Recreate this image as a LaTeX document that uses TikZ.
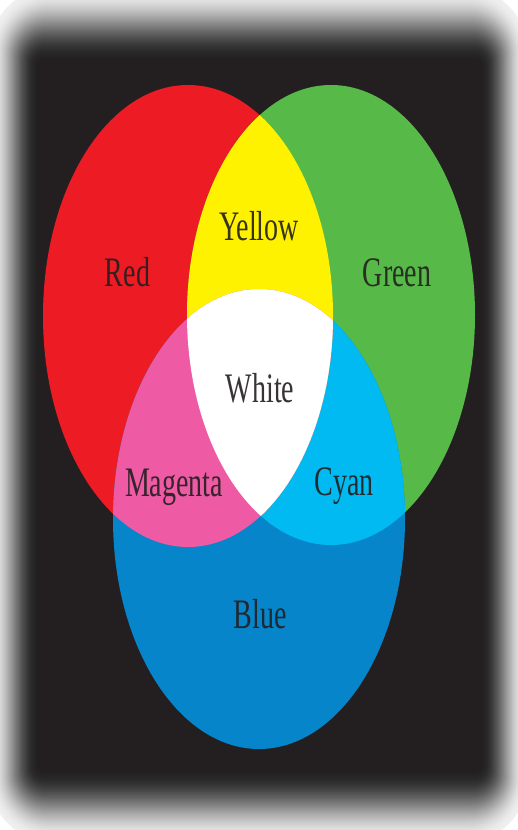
\documentclass[tikz,border=0pt]{standalone}
\usepackage{fontspec}
\setmainfont{Liberation Serif}
\definecolor{bgc}{HTML}{231F20}
\definecolor{redc}{HTML}{ED1C24}
\definecolor{greenc}{HTML}{57B947}
\definecolor{bluec}{HTML}{0685CB}
\definecolor{yellowc}{HTML}{FFF200}
\definecolor{magentac}{HTML}{EE5AA3}
\definecolor{cyanc}{HTML}{00BAF1}
\definecolor{textc}{HTML}{231F20}
\newcommand{\stretchlbl}[1]{\scalebox{1}[1.5]{#1}}
\begin{document}
\begin{tikzpicture}[x=1pt,y=-1pt,
  lbl/.style={anchor=base, inner sep=0pt, text=textc, text opacity=0.9,
    font=\fontsize{28}{30}\selectfont}]
\useasboundingbox (0,0) rectangle (517,830);
\fill[white] (0,0) rectangle (517,830);
% blurred shadow frame
\foreach \i in {0,...,40}{
  \pgfmathsetmacro\t{\i/40}
  \pgfmathsetmacro\s{3*\t*\t-2*\t*\t*\t}
  \pgfmathsetmacro\p{6+80*\s}
  \pgfmathsetmacro\xa{-10+46*\t}
  \pgfmathsetmacro\ya{-12+70*\t}
  \pgfmathsetmacro\xb{527-44*\t}
  \pgfmathsetmacro\yb{842-69*\t}
  \pgfmathsetmacro\r{62-54*\t}
  \fill[black!\p!white, rounded corners=\r pt] (\xa,\ya) rectangle (\xb,\yb);
}
\fill[bgc, rounded corners=8pt] (36,58) rectangle (483,773);
% colour ellipses
\def\redE{(188,316) ellipse [x radius=145, y radius=231]}
\def\greenE{(331,315) ellipse [x radius=144, y radius=230]}
\def\blueE{(259,519) ellipse [x radius=146, y radius=230]}
\fill[redc] \redE;
\fill[greenc] \greenE;
\fill[bluec] \blueE;
\begin{scope}
  \clip \greenE;
  \fill[cyanc] \blueE;
\end{scope}
\begin{scope}
  \clip \redE;
  \fill[yellowc] \greenE;
  \fill[magentac] \blueE;
  \clip \greenE;
  \fill[white] \blueE;
\end{scope}
% labels
\node[lbl] (lblRed) at (127.5,286) {\stretchlbl{Red}};
\node[lbl] (lblYellow) at (259,240) {\stretchlbl{Yellow}};
\node[lbl] (lblGreen) at (397,286) {\stretchlbl{Green}};
\node[lbl] (lblWhite) at (260,402) {\stretchlbl{White}};
\node[lbl] (lblMagenta) at (174,496) {\stretchlbl{Magenta}};
\node[lbl] (lblCyan) at (344,495) {\stretchlbl{Cyan}};
\node[lbl] (lblBlue) at (260,628) {\stretchlbl{Blue}};
\end{tikzpicture}
\end{document}
